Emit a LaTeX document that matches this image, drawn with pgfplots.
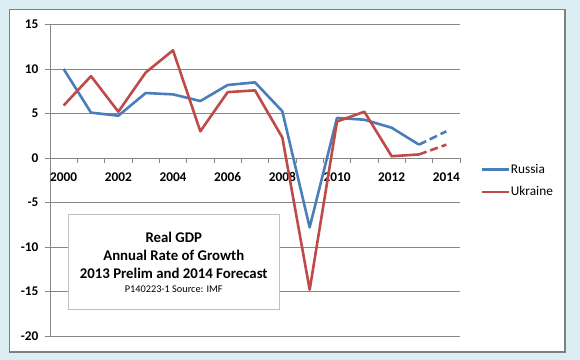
\documentclass[border=0pt]{standalone}
\usepackage{pgfplots}
\pgfplotsset{compat=1.18}
\usepackage{fontspec}
\setmainfont{Carlito}
\definecolor{bgcol}{HTML}{DBEEF4}
\definecolor{framecol}{HTML}{7F7F7F}
\definecolor{gridcol}{HTML}{868686}
\definecolor{rus}{HTML}{4A7EBB}
\definecolor{ukr}{HTML}{BE4B48}
\definecolor{boxcol}{HTML}{BFBFBF}
\newcommand{\fs}{\fontsize{13.3bp}{16bp}\selectfont}
\newcommand{\fb}{\fontsize{14.8bp}{17bp}\selectfont}
\begin{document}
\begin{tikzpicture}
\fill[bgcol] (0bp,0bp) rectangle (580bp,360bp);
\draw[framecol, line width=1.2bp, fill=white] (9.5bp,8bp) rectangle (565bp,350.5bp);
\begin{axis}[
  at={(50bp,24bp)}, anchor=south west,
  scale only axis, width=410bp, height=311.5bp,
  xmin=-0.5, xmax=14.5, ymin=-20, ymax=15,
  axis x line*=middle, axis y line*=left,
  x axis line style={-, gridcol, line width=0.9bp},
  y axis line style={-, gridcol, line width=0.9bp},
  xtick={0,2,...,14},
  xticklabels={2000,2002,2004,2006,2008,2010,2012,2014},
  minor xtick={-0.5,0.5,...,14.5},
  ytick={-20,-15,...,15},
  tick align=outside,
  major x tick style={draw=none},
  minor x tick style={gridcol, line width=0.9bp},
  major y tick style={gridcol, line width=0.9bp},
  minor tick length=5bp, major tick length=5bp,
  ymajorgrids, grid style={gridcol, line width=0.9bp},
  /pgf/number format/assume math mode=true,
  ticklabel style={font=\fs\bfseries, text=black},
  xticklabel style={yshift=-6bp},
  yticklabel style={xshift=-3bp},
  legend style={at={(1.049,0.556)}, anchor=north west, draw=none, fill=none,
    font=\fs, row sep=10bp, inner sep=0pt, nodes={inner xsep=1bp, inner ysep=1bp}},
  legend cell align=left,
  legend image code/.code={\draw[#1, solid] (0bp,0bp) -- (27bp,0bp);},
  every axis plot/.append style={line width=2.6bp, line join=round},
  clip=false,
]
\addplot[rus] coordinates {(0,10.0)(1,5.1)(2,4.75)(3,7.3)(4,7.15)(5,6.4)(6,8.2)(7,8.5)(8,5.25)(9,-7.8)(10,4.5)(11,4.3)(12,3.4)(13,1.5)};
\addlegendentry{Russia}
\addplot[ukr] coordinates {(0,5.9)(1,9.2)(2,5.2)(3,9.6)(4,12.1)(5,3.0)(6,7.4)(7,7.6)(8,2.3)(9,-14.8)(10,4.1)(11,5.2)(12,0.2)(13,0.4)};
\addlegendentry{Ukraine}
\addplot[rus, dash pattern=on 8bp off 4bp, forget plot] coordinates {(13,1.5)(14,3.0)};
\addplot[ukr, dash pattern=on 8bp off 4bp, forget plot] coordinates {(13,0.4)(14,1.5)};
\end{axis}
\draw[boxcol, line width=0.9bp, fill=white] (68bp,51bp) rectangle (279.5bp,146bp);
\node[font=\fb\bfseries] at (173.75bp,122.7bp) {Real GDP};
\node[font=\fb\bfseries] at (173.75bp,104.3bp) {Annual Rate of Growth};
\node[font=\fb\bfseries] at (173.75bp,86.7bp) {2013 Prelim and 2014 Forecast};
\node[font=\fontsize{10.3bp}{12bp}\selectfont] at (173.75bp,71.3bp) {P140223-1 Source: IMF};
\end{tikzpicture}
\end{document}
